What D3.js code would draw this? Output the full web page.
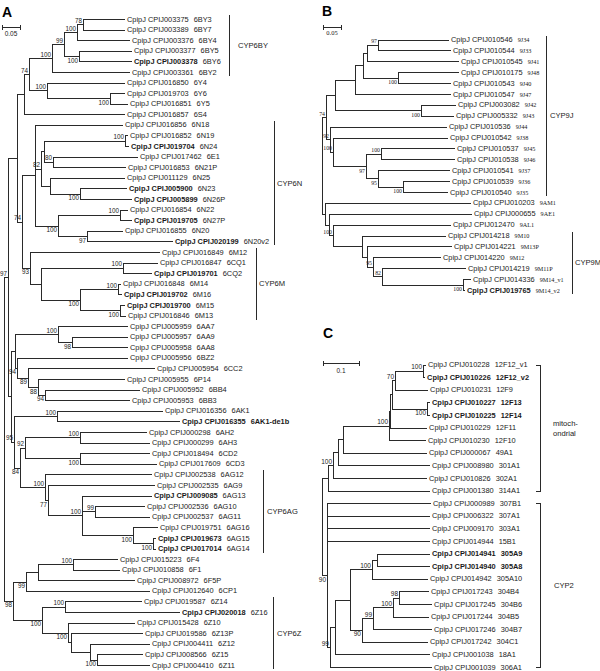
<!DOCTYPE html>
<html><head><meta charset="utf-8">
<script src="https://cdn.jsdelivr.net/npm/d3@7"></script>
<style>
html,body{margin:0;padding:0;background:#fff;}
svg{display:block;}
</style></head><body>
<script>
// ---------------- DATA ----------------
const prefix = "CpipJ";

// Panel A tree (Newick, branch lengths in substitutions/site, bootstrap as node labels)
const treeA = [
 "(((",
 "((((((6BY3:.1167,6BY7:.1167)78:.0167,6BY4:.1472)100:.0361,(6BY5:.1472,6BY6:.1472)100:.0417)99:.0333,6BY2:.2167)100:.0639,(6Y4:.2167,(6Y6:.0417,6Y5:.05)100:.175)100:.05)74:.0139,6S4:.2806):.0194",
 ",(",
 "(6N18:.2444,(((6N19:.0083,6N24:.0111)100:.225,(6E1:.2361,6N21P:.2028)80:.025):.0083,(6N25:.2083,(6N23:.1306,6N26P:.1444)100:.0833):.025)82:.0167,((6N22:.0222,6N27P:.0333)100:.1722,(6N20:.1,6N20v2:.2389)97:.0806)100:.0639):.0361",
 ",",
 "(6M12:.3611,((6CQ1:.0972,6CQ2:.0806)100:.2278,((6M14:.0083,6M16:.0111)100:.1056,(6M15:.0139,6M13:.0167)100:.1111)100:.1083):.0306)93:.0222",
 ")74:.0139):.025,(",
 "((6AA7:.1944,(6AA9:.1556,6AA8:.1556)98:.0389)100:.1194,(6BZ2:.3083,(6CC2:.3528,(6P14:.2417,(6BB4:.2639,6BB3:.2361)94:.0194)88:.0278)89:.0306)94:.0056):.0111",
 ",",
 "((6AK1:.2944,6AK1-de1b:.3417)100:.1194,(((6AH2:.1861,6AH3:.1944)100:.1528,(6CD2:.1944,6CD3:.2139)100:.1528)92:.0139,(6AG12:.2972,(6AG9:.2972,(6AG13:.1944,(6AG10:.1389,6AG11:.1528)99:.0361,(6AG16:.0694,(6AG15:.0083,6AG14:.0083)100:.0556)100:.1417)100:.0944)77:.0083)100:.0694)84:.0167)95:.0083",
 "):.0083)97:.0111,",
 "((((6F4:.125,6F1:.1306)100:.0972,6F5P:.2694):.0333,6CP1:.3444)99:.0361,((6Z14:.2139,6Z16:.3194)100:.0639,(6Z10:.1861,(6Z13P:.2,(6Z12:.1667,(6Z15:.1278,6Z11:.1472)100:.0194):.0528):.0083)100:.0722)100:.0806)98:.025",
 ");"
].join("");

const treeB = "(((((((9J34:.1972,9J33:.2028)97:.0306,9J41:.2556):.0111,(9J48:.1694,9J40:.1472)100:.0972):.0222,9J47:.2667):.0556,(9J42:.0972,9J43:.0917)100:.2389):.025,(9J44:.325,(9J38:.3194,((9J45:.2056,9J46:.2056)100:.0417,(9J37:.2,(9J36:.1306,9J35:.125)100:.0694)95:.0333)97:.0917)100:.0083)92:.0111)74:.0111,(9AM1:.4056,(9AE1:.3972,(9AL1:.3278,(9M10:.2333,(9M13P:.2361,(9M12:.1889,(9M11P:.2333,(9M14_v1:.0222,9M14_v2:.0056)100:.225)82:.025)95:.0167):.0139):.0806)100:.0111):.0111):.0083);";

const treeC = "((((((((((12F12_v1:.0083,12F12_v2:.0056)100:.0778,12F9:.0917)70:.0083,(12F13:.0083,12F14:.0083)100:.0972):.0056,12F11:.1028):.0028,12F10:.1028)100:.1278,49A1:.2333):.0139,301A1:.2556):.0139,302A1:.2611)100:.0139,314A1:.2833):.0167,(307B1:.2889,307A1:.2861,303A1:.2861,15B1:.2861,(((((305A9:.1472,305A8:.1472):.0139,305A10:.1556)100:.0611,((((304B4:.0833,304B6:.0917)98:.0167,304B5:.1)100:.0556,304B7:.1639)99:.0306,304C1:.1833)90:.0333):.0417,18A1:.2639):.0139,306A1:.2833)99:.0083)90:.0139);";

// leaves: [gene name, gene id, bold: 0 none / 1 id / 2 all]
const leavesA = [
["6BY3","CPIJ003375",0],["6BY7","CPIJ003389",0],["6BY4","CPIJ003376",0],["6BY5","CPIJ003377",0],
["6BY6","CPIJ003378",1],["6BY2","CPIJ003361",0],["6Y4","CPIJ016850",0],["6Y6","CPIJ019703",0],
["6Y5","CPIJ016851",0],["6S4","CPIJ016857",0],["6N18","CPIJ016856",0],["6N19","CPIJ016852",0],
["6N24","CPIJ019704",1],["6E1","CPIJ017462",0],["6N21P","CPIJ016853",0],["6N25","CPIJ011129",0],
["6N23","CPIJ005900",1],["6N26P","CPIJ005899",1],["6N22","CPIJ016854",0],["6N27P","CPIJ019705",1],
["6N20","CPIJ016855",0],["6N20v2","CPIJ020199",1],["6M12","CPIJ016849",0],["6CQ1","CPIJ016847",0],
["6CQ2","CPIJ019701",1],["6M14","CPIJ016848",0],["6M16","CPIJ019702",1],["6M15","CPIJ019700",1],
["6M13","CPIJ016846",0],["6AA7","CPIJ005959",0],["6AA9","CPIJ005957",0],["6AA8","CPIJ005958",0],
["6BZ2","CPIJ005956",0],["6CC2","CPIJ005954",0],["6P14","CPIJ005955",0],["6BB4","CPIJ005952",0],
["6BB3","CPIJ005953",0],["6AK1","CPIJ016356",0],["6AK1-de1b","CPIJ016355",2],["6AH2","CPIJ000298",0],
["6AH3","CPIJ000299",0],["6CD2","CPIJ018494",0],["6CD3","CPIJ017609",0],["6AG12","CPIJ002538",0],
["6AG9","CPIJ002535",0],["6AG13","CPIJ009085",1],["6AG10","CPIJ002536",0],["6AG11","CPIJ002537",0],
["6AG16","CPIJ019751",0],["6AG15","CPIJ019673",1],["6AG14","CPIJ017014",1],["6F4","CPIJ015223",0],
["6F1","CPIJ010858",0],["6F5P","CPIJ008972",0],["6CP1","CPIJ012640",0],["6Z14","CPIJ019587",0],
["6Z16","CPIJ020018",1],["6Z10","CPIJ015428",0],["6Z13P","CPIJ019586",0],["6Z12","CPIJ004411",0],
["6Z15","CPIJ008566",0],["6Z11","CPIJ004410",0]
];
const leavesB = [
["9J34","CPIJ010546",0],["9J33","CPIJ010544",0],["9J41","CPIJ010545",0],["9J48","CPIJ010175",0],
["9J40","CPIJ010543",0],["9J47","CPIJ010547",0],["9J42","CPIJ003082",0],["9J43","CPIJ005332",0],
["9J44","CPIJ010536",0],["9J38","CPIJ010542",0],["9J45","CPIJ010537",0],["9J46","CPIJ010538",0],
["9J37","CPIJ010541",0],["9J36","CPIJ010539",0],["9J35","CPIJ010540",0],["9AM1","CPIJ010203",0],
["9AE1","CPIJ000655",0],["9AL1","CPIJ012470",0],["9M10","CPIJ014218",0],["9M13P","CPIJ014221",0],
["9M12","CPIJ014220",0],["9M11P","CPIJ014219",0],["9M14_v1","CPIJ014336",0],["9M14_v2","CPIJ019765",1]
];
const leavesC = [
["12F12_v1","CPIJ010228",0],["12F12_v2","CPIJ010226",2],["12F9","CPIJ010231",0],["12F13","CPIJ010227",2],
["12F14","CPIJ010225",2],["12F11","CPIJ010229",0],["12F10","CPIJ010230",0],["49A1","CPIJ000067",0],
["301A1","CPIJ008980",0],["302A1","CPIJ010826",0],["314A1","CPIJ001380",0],["307B1","CPIJ000989",0],
["307A1","CPIJ006322",0],["303A1","CPIJ009170",0],["15B1","CPIJ014944",0],["305A9","CPIJ014941",2],
["305A8","CPIJ014940",2],["305A10","CPIJ014942",0],["304B4","CPIJ017243",0],["304B6","CPIJ017245",0],
["304B5","CPIJ017244",0],["304B7","CPIJ017246",0],["304C1","CPIJ017242",0],["18A1","CPIJ001038",0],
["306A1","CPIJ001039",0]
];

// clade brackets: [label lines, first leaf, last leaf]
const cladesA = [[["CYP6BY"],"6BY3","6BY2"],[["CYP6N"],"6N18","6N20v2"],[["CYP6M"],"6M12","6M13"],[["CYP6AG"],"6AG12","6AG14"],[["CYP6Z"],"6Z14","6Z11"]];
const cladesB = [[["CYP9J"],"9J34","9J35"],[["CYP9M"],"9M10","9M14_v2"]];
const cladesC = [[["mitoch-","ondrial"],"12F12_v1","314A1"],[["CYP2"],"307B1","306A1"]];

const scaleValues = {A: 0.05, B: 0.05, C: 0.1};
const scaleLabels = {A: "0.05", B: "0.05", C: "0.1"};

// ---------------- LAYOUT / STYLE ----------------
const W = 600, H = 671;
const PX_PER_UNIT = 360;
const SANS = "'Liberation Sans', Arial, Helvetica, sans-serif";
const SERIF = "'Liberation Serif', 'Times New Roman', serif";
const LINE = "#2a2a2a";
const TXT = "#1a1a1a";

// nodes (identified by first|last leaf) whose support value sits under the branch
const belowA = ["6BY5|6BY6","6Y6|6Y5","6N20|6N20v2","6N22|6N20v2","6N23|6N26P","6M12|6M13","6M14|6M13","6M15|6M13",
  "6AA9|6AA8","6BZ2|6BB3","6CC2|6BB3","6P14|6BB3","6BB4|6BB3","6CD2|6CD3","6AG9|6AG14","6AG16|6AG14","6AG15|6AG14",
  "6F4|6Z11","6F4|6CP1","6Z14|6Z11","6Z10|6Z11","6Z15|6Z11","6AH2|6AG14"];
const belowB = ["9J48|9J40","9J42|9J43","9J45|9J35","9J37|9J35","9J36|9J35","9M14_v1|9M14_v2"];
const belowC = ["12F13|12F14","304B4|304C1","307B1|306A1"];

const panels = [
 {key:"A", tree:treeA, leaves:leavesA, clades:cladesA, below:belowA, rootX:4, y0:19, y1:665,
  bracketX:[229,274,256,263,273], bracketDx:[9,3,3,4,4], ticks:false,
  geneFont:SANS, geneSize:7.4, geneGap:5, bootFont:SANS, bootSize:6.3,
  letter:[2,17], bar:[2,27], barLabelY:36, barFont:SANS},
 {key:"B", tree:treeB, leaves:leavesB, clades:cladesB, below:belowB, rootX:322, y0:39.5, y1:290,
  bracketX:[546,572], bracketDx:[4,3], ticks:false,
  geneFont:SERIF, geneSize:6.2, geneGap:5, bootFont:SERIF, bootSize:5.8,
  letter:[322,16], bar:[323,27], barLabelY:35, barFont:SERIF},
 {key:"C", tree:treeC, leaves:leavesC, clades:cladesC, below:belowC, rootX:322, y0:364.5, y1:667,
  bracketX:[540,540], bracketDx:[13,14], ticks:true,
  geneFont:SANS, geneSize:7.4, geneGap:5, bootFont:SANS, bootSize:6.5,
  letter:[323,338], bar:[323,363], barLabelY:373, barFont:SANS}
];

function parseNewick(s) {
  let i = 0;
  function readNode() {
    const n = {};
    if (s[i] === "(") {
      n.children = [];
      i++;
      n.children.push(readNode());
      while (s[i] === ",") { i++; n.children.push(readNode()); }
      i++;
    }
    let name = "";
    while (i < s.length && ",():;".indexOf(s[i]) < 0) name += s[i++];
    n.name = name;
    n.length = 0;
    if (s[i] === ":") {
      i++;
      let t = "";
      while (i < s.length && ",();".indexOf(s[i]) < 0) t += s[i++];
      n.length = +t;
    }
    return n;
  }
  return readNode();
}

const svg = d3.select("body").append("svg")
  .attr("width", W).attr("height", H)
  .attr("viewBox", `0 0 ${W} ${H}`)
  .style("background", "#fff");

const cr = v => Math.round(v) + 0.5;

function drawPanel(cfg) {
  const g = svg.append("g").attr("class", "panel-" + cfg.key);
  const root = d3.hierarchy(parseNewick(cfg.tree));
  const x = d3.scaleLinear().domain([0, 1]).range([cfg.rootX, cfg.rootX + PX_PER_UNIT]);
  root.eachBefore(d => { d.dist = d.parent ? d.parent.dist + d.data.length : 0; d.px = x(d.dist); });
  const leaves = root.leaves();
  const y = d3.scaleLinear().domain([0, leaves.length - 1]).range([cfg.y0, cfg.y1]);
  leaves.forEach((d, i) => d.py = y(i));
  root.eachAfter(d => { if (d.children) d.py = (d.children[0].py + d.children[d.children.length - 1].py) / 2; });
  const nodes = root.descendants();
  const keyOf = d => { const l = d.leaves(); return l[0].data.name + "|" + l[l.length - 1].data.name; };
  const below = new Set(cfg.below);

  const lines = g.append("g").attr("stroke", LINE).attr("stroke-width", 1).attr("shape-rendering", "crispEdges");
  lines.selectAll("line.h").data(nodes.filter(d => d.parent)).join("line").attr("class", "h")
    .attr("x1", d => Math.round(d.parent.px)).attr("x2", d => Math.round(d.px))
    .attr("y1", d => cr(d.py)).attr("y2", d => cr(d.py));
  lines.selectAll("line.v").data(nodes.filter(d => d.children)).join("line").attr("class", "v")
    .attr("x1", d => cr(d.px)).attr("x2", d => cr(d.px))
    .attr("y1", d => Math.round(d.children[0].py)).attr("y2", d => Math.round(d.children[d.children.length - 1].py) + 1);

  // bootstrap values
  g.append("g").selectAll("text").data(nodes.filter(d => d.children && d.data.name)).join("text")
    .attr("x", d => d.px - 1)
    .attr("y", d => below.has(keyOf(d)) ? d.py + 6.5 : d.py - 1.5)
    .attr("text-anchor", "end")
    .attr("font-family", cfg.bootFont).attr("font-size", cfg.bootSize).attr("fill", TXT)
    .text(d => d.data.name);

  // leaf labels
  const info = new Map(cfg.leaves.map(r => [r[0], r]));
  g.append("g").selectAll("text").data(leaves).join("text")
    .attr("x", d => d.px + 2).attr("y", d => d.py).attr("dy", "0.35em")
    .attr("font-family", SANS).attr("font-size", 7.4).attr("fill", TXT)
    .each(function(d) {
      const r = info.get(d.data.name) || [d.data.name, "", 0];
      const t = d3.select(this);
      t.append("tspan").attr("font-weight", r[2] ? "bold" : "normal").text(prefix + " " + r[1]);
      t.append("tspan").attr("dx", cfg.geneGap)
        .attr("font-family", cfg.geneFont).attr("font-size", cfg.geneSize)
        .attr("font-weight", r[2] === 2 ? "bold" : "normal").text(r[0]);
    });

  // clade brackets
  const byName = new Map(leaves.map(d => [d.data.name, d]));
  cfg.clades.forEach((c, k) => {
    const a = byName.get(c[1]), b = byName.get(c[2]);
    const bx = cr(cfg.bracketX[k]);
    const top = cfg.ticks ? Math.round(a.py) + 0.5 : a.py - 4;
    const bot = cfg.ticks ? Math.round(b.py) + 0.5 : b.py + 4;
    const bg = g.append("g").attr("stroke", LINE).attr("stroke-width", 1).attr("shape-rendering", "crispEdges");
    bg.append("line").attr("x1", bx).attr("x2", bx).attr("y1", top).attr("y2", bot);
    if (cfg.ticks) {
      bg.append("line").attr("x1", bx - 5).attr("x2", bx).attr("y1", top).attr("y2", top);
      bg.append("line").attr("x1", bx - 5).attr("x2", bx).attr("y1", bot).attr("y2", bot);
    }
    const mid = (top + bot) / 2;
    const n = c[0].length;
    c[0].forEach((s, j) => {
      g.append("text").attr("x", cfg.bracketX[k] + cfg.bracketDx[k])
        .attr("y", mid + (j - (n - 1) / 2) * 10).attr("dy", "0.35em")
        .attr("font-family", SANS).attr("font-size", 7.6).attr("fill", TXT).text(s);
    });
  });

  // scale bar
  const len = x(scaleValues[cfg.key]) - x(0);
  const [bx0, by] = cfg.bar;
  const sb = g.append("g").attr("stroke", LINE).attr("stroke-width", 1).attr("shape-rendering", "crispEdges");
  sb.append("line").attr("x1", bx0).attr("x2", bx0 + len).attr("y1", cr(by)).attr("y2", cr(by));
  sb.append("line").attr("x1", cr(bx0)).attr("x2", cr(bx0)).attr("y1", by - 2).attr("y2", by + 3);
  sb.append("line").attr("x1", cr(bx0 + len)).attr("x2", cr(bx0 + len)).attr("y1", by - 2).attr("y2", by + 3);
  g.append("text").attr("x", bx0 + len / 2).attr("y", cfg.barLabelY).attr("text-anchor", "middle")
    .attr("font-family", cfg.barFont).attr("font-size", 6.5).attr("fill", TXT).text(scaleLabels[cfg.key]);

  // panel letter
  g.append("text").attr("x", cfg.letter[0]).attr("y", cfg.letter[1])
    .attr("font-family", SANS).attr("font-weight", "bold").attr("font-size", 14).attr("fill", "#000")
    .text(cfg.key);
}

panels.forEach(drawPanel);
</script>
</body></html>
